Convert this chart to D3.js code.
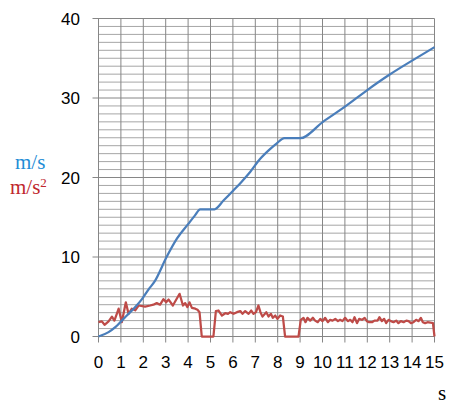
<!DOCTYPE html>
<html>
<head>
<meta charset="utf-8">
<script src="https://cdn.jsdelivr.net/npm/d3@7"></script>
<style>
  body { margin: 0; background: #fff; }
  svg { display: block; }
  .tick-label { font-family: "Liberation Sans", Arial, sans-serif; font-size: 17px; fill: #000; }
  .unit { font-family: "Liberation Serif", "Times New Roman", serif; font-size: 21px; }
</style>
</head>
<body>
<div id="chart"></div>
<script>
// x tick labels (seconds) and y tick labels
var xTicks = [0, 1, 2, 3, 4, 5, 6, 7, 8, 9, 10, 11, 12, 13, 14, 15];
var yTicks = [0, 10, 20, 30, 40];

// velocity, m/s
var velTime = [0, 0.45, 0.75, 1.04, 1.34, 1.64, 1.94, 2.23, 2.5, 3.04, 3.5, 4.02, 4.3, 4.54, 5.18, 5.58, 6.03, 6.43,
    6.77, 7.22, 7.67, 7.96, 8.3, 9.0, 10.02, 11.05, 12.0, 13.0, 14.0, 15.0];
var velValue = [0, 0.55, 1.17, 2.0, 2.85, 3.7, 4.7, 5.9, 6.9, 10.0, 12.3, 14.2, 15.2, 16.0, 16.0, 17.1, 18.4, 19.6,
    20.7, 22.35, 23.6, 24.3, 24.94, 24.94, 27.0, 29.0, 31.0, 32.95, 34.7, 36.4];

// acceleration, m/s2
var accTime = [0, 0.15, 0.27, 0.45, 0.6, 0.71, 0.9, 1.04, 1.22, 1.34, 1.49, 1.64, 1.79, 2.08, 2.31, 2.45, 2.6,
    2.75, 2.9, 3.02, 3.13, 3.32, 3.62, 3.77, 3.87, 3.97, 4.06, 4.17, 4.32, 4.42, 4.51, 4.61, 5.13, 5.24,
    5.36, 5.51, 5.66, 5.78, 5.88, 6.03, 6.18, 6.33, 6.43, 6.55, 6.70, 6.82, 6.92, 7.03, 7.14, 7.23, 7.32,
    7.49, 7.59, 7.70, 7.78, 7.89, 7.99, 8.11, 8.23, 8.33, 8.93, 9.03, 9.15, 9.24, 9.33, 9.45, 9.57, 9.67,
    9.79, 9.90, 10.0, 10.12, 10.24, 10.34, 10.45, 10.57, 10.69, 10.79, 10.89, 11.01, 11.13, 11.24, 11.34,
    11.43, 11.54, 11.64, 11.76, 11.88, 11.98, 12.08, 12.21, 12.32, 12.46, 12.54, 12.65, 12.75, 12.84,
    12.95, 13.05, 13.17, 13.29, 13.39, 13.5, 13.62, 13.74, 13.84, 13.95, 14.06, 14.18, 14.29, 14.39,
    14.48, 14.58, 14.69, 14.81, 14.93, 15.0];
var accValue = [1.8, 1.9, 1.47, 1.9, 2.5, 2.0, 3.5, 1.8, 4.3, 2.85, 3.5, 3.3, 3.9, 3.77, 3.9, 4.0, 4.2,
    4.0, 4.7, 4.3, 4.65, 3.9, 5.37, 3.9, 4.2, 3.7, 4.3, 3.6, 3.5, 3.36, 3.06, 0, 0, 3.2,
    3.27, 2.64, 2.93, 2.85, 3.06, 2.85, 3.06, 3.2, 2.85, 3.2, 2.85, 3.27, 2.85, 3.06, 3.9, 3.06, 2.5,
    3.06, 2.52, 2.85, 2.35, 2.64, 2.22, 2.64, 2.52, 0, 0, 2.1, 2.35, 1.8, 2.35, 2.0, 2.35, 2.0,
    1.8, 2.22, 1.93, 2.35, 1.8, 2.1, 2.0, 2.22, 1.93, 2.1, 1.93, 2.35, 1.93, 2.1, 1.8,
    2.43, 1.68, 2.22, 2.1, 2.35, 1.93, 1.8, 1.8, 2.0, 2.0, 2.43, 1.93, 2.22, 1.68,
    2.1, 1.93, 1.8, 2.0, 1.68, 1.93, 1.8, 2.0, 1.93, 1.68, 1.8, 2.1, 1.93, 2.35,
    1.8, 1.68, 1.8, 1.76, 1.68, 0];

var width = 454, height = 411;

var svg = d3.select("#chart")
    .append("svg")
    .attr("width", width)
    .attr("height", height);

var x = d3.scaleLinear().domain([0, 15]).range([98.5, 434.5]);
var y = d3.scaleLinear().domain([0, 40]).range([336.5, 18.5]);

// minor horizontal grid every 1 unit
var grid = svg.append("g");
grid.selectAll("line.minor")
    .data(d3.range(0, 41).filter(function(d) { return d % 10 !== 0; }))
    .enter().append("line")
    .attr("x1", x(0)).attr("x2", x(15))
    .attr("y1", function(d) { return y(d); })
    .attr("y2", function(d) { return y(d); })
    .style("stroke", "#a6a6a6")
    .style("stroke-width", 1);

// vertical grid lines + bottom ticks
grid.selectAll("line.vert")
    .data(xTicks)
    .enter().append("line")
    .attr("x1", function(d) { return x(d); })
    .attr("x2", function(d) { return x(d); })
    .attr("y1", y(40)).attr("y2", y(0) + 6)
    .style("stroke", "#868686")
    .style("stroke-width", 1);

// major horizontal lines + left ticks
grid.selectAll("line.major")
    .data(yTicks)
    .enter().append("line")
    .attr("x1", x(0) - 6).attr("x2", x(15))
    .attr("y1", function(d) { return y(d); })
    .attr("y2", function(d) { return y(d); })
    .style("stroke", "#868686")
    .style("stroke-width", 1);

// tick labels
svg.append("g").selectAll("text")
    .data(xTicks)
    .enter().append("text")
    .attr("class", "tick-label")
    .attr("x", function(d) { return x(d); })
    .attr("y", 368)
    .attr("text-anchor", "middle")
    .text(function(d) { return d; });

svg.append("g").selectAll("text")
    .data(yTicks)
    .enter().append("text")
    .attr("class", "tick-label")
    .attr("x", 80)
    .attr("y", function(d) { return y(d); })
    .attr("dy", "0.36em")
    .attr("text-anchor", "end")
    .text(function(d) { return d; });

// series
var line = d3.line()
    .x(function(d) { return x(d[0]); })
    .y(function(d) { return y(d[1]); });

var accData = accTime.map(function(t, i) { return [t, accValue[i]]; });
var velData = velTime.map(function(t, i) { return [t, velValue[i]]; });

svg.append("path")
    .datum(accData)
    .attr("d", line)
    .style("fill", "none")
    .style("stroke", "#be4b48")
    .style("stroke-width", 2.25)
    .style("stroke-linejoin", "round");

svg.append("path")
    .datum(velData)
    .attr("d", line.curve(d3.curveMonotoneX))
    .style("fill", "none")
    .style("stroke", "#4a7ebb")
    .style("stroke-width", 2.25)
    .style("stroke-linejoin", "round");

// unit labels
svg.append("text")
    .attr("class", "unit")
    .attr("x", 15).attr("y", 169)
    .style("fill", "#1f8dd6")
    .text("m/s");

var acc = svg.append("text")
    .attr("class", "unit")
    .attr("x", 10).attr("y", 194)
    .style("fill", "#c0272d");
acc.append("tspan").text("m/s");
acc.append("tspan")
    .attr("dy", -7)
    .style("font-size", "13px")
    .text("2");

svg.append("text")
    .attr("class", "unit")
    .attr("x", 442).attr("y", 400)
    .attr("text-anchor", "middle")
    .style("fill", "#000")
    .text("s");
</script>
</body>
</html>
